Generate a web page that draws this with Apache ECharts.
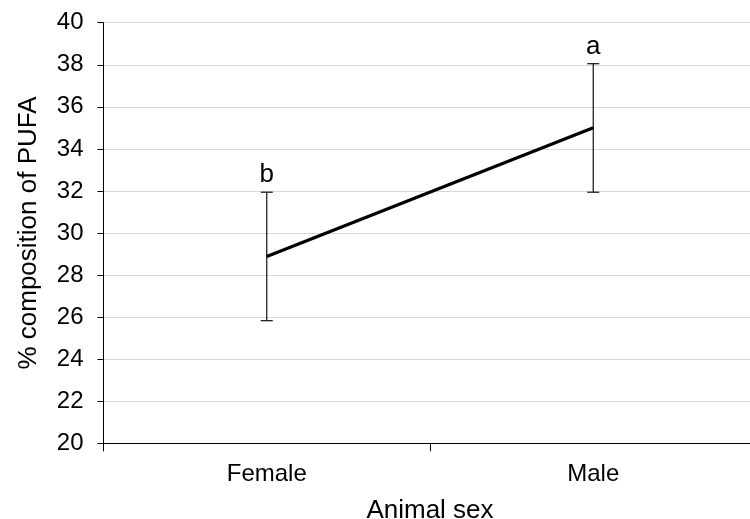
<!DOCTYPE html>
<html>
<head>
<meta charset="utf-8">
<script src="https://cdn.jsdelivr.net/npm/echarts@6/dist/echarts.min.js"></script>
<style>
html,body{margin:0;padding:0;background:#fff;}
#chart{width:750px;height:519px;}
</style>
</head>
<body>
<div id="chart"></div>
<script>
var categories = ['Female', 'Male'];
var means = [28.88, 35.0];
var errLow = [25.83, 31.94];
var errHigh = [31.94, 38.05];
var letters = ['b', 'a'];
var yMin = 20, yMax = 40, yStep = 2;

var FONT = "'Liberation Sans', Arial, sans-serif";
var chart = echarts.init(document.getElementById('chart'), null, {renderer: 'canvas'});

var errData = categories.map(function (c, i) { return [i, errLow[i], errHigh[i], letters[i]]; });

chart.setOption({
  animation: false,
  backgroundColor: '#ffffff',
  grid: {left: 103.5, right: -6.5, top: 22.7, bottom: 75.7, containLabel: false, outerBoundsMode: 'none'},
  xAxis: {
    type: 'category',
    data: categories,
    boundaryGap: true,
    name: 'Animal sex',
    nameLocation: 'middle',
    nameGap: 55,
    nameTextStyle: {fontFamily: FONT, fontSize: 26, color: '#000'},
    axisLine: {lineStyle: {color: '#000', width: 1}},
    axisTick: {show: true, length: 8, lineStyle: {color: '#000'}},
    axisLabel: {fontFamily: FONT, fontSize: 24, color: '#000', margin: 19},
    splitLine: {show: false}
  },
  yAxis: {
    type: 'value',
    min: yMin, max: yMax, interval: yStep,
    name: '% composition of PUFA',
    nameLocation: 'middle',
    nameGap: 62,
    nameTextStyle: {fontFamily: FONT, fontSize: 26, color: '#000'},
    axisLine: {show: true, lineStyle: {color: '#000', width: 1}},
    axisTick: {show: true, length: 6, lineStyle: {color: '#000'}},
    axisLabel: {fontFamily: FONT, fontSize: 24, color: '#000', margin: 20},
    splitLine: {show: true, lineStyle: {color: '#d9d9d9', width: 1}}
  },
  series: [
    {
      type: 'custom',
      data: errData,
      z: 2,
      renderItem: function (params, api) {
        var x = api.value(0);
        var lo = api.coord([x, api.value(1)]);
        var hi = api.coord([x, api.value(2)]);
        var cap = 6;
        var style = {stroke: '#111', lineWidth: 1.2};
        return {
          type: 'group',
          children: [
            {type: 'line', shape: {x1: lo[0], y1: lo[1], x2: hi[0], y2: hi[1]}, style: style},
            {type: 'line', shape: {x1: lo[0] - cap, y1: lo[1], x2: lo[0] + cap, y2: lo[1]}, style: style},
            {type: 'line', shape: {x1: hi[0] - cap, y1: hi[1], x2: hi[0] + cap, y2: hi[1]}, style: style},
            {type: 'text', style: {x: hi[0], y: hi[1] - 4, text: api.value(3), fontFamily: FONT, fontSize: 26, fill: '#000', align: 'center', verticalAlign: 'bottom'}}
          ]
        };
      }
    },
    {
      type: 'line',
      data: means,
      z: 3,
      showSymbol: false,
      symbol: 'none',
      lineStyle: {color: '#000', width: 3.2}
    }
  ]
});
</script>
</body>
</html>
